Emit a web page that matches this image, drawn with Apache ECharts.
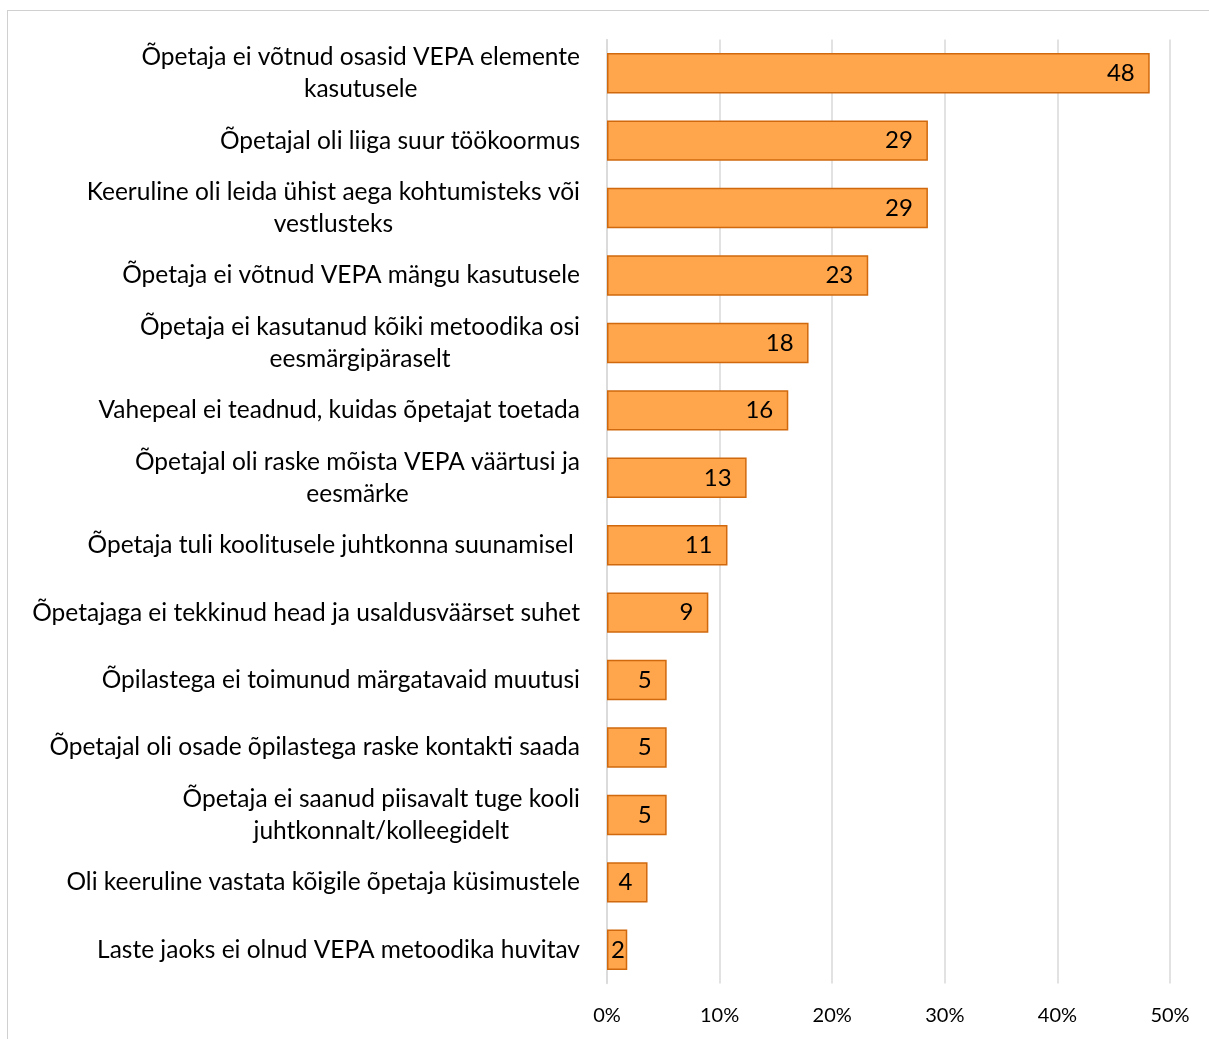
<!DOCTYPE html>
<html>
<head>
<meta charset="utf-8">
<script src="https://cdn.jsdelivr.net/npm/echarts@6/dist/echarts.min.js"></script>
<style>
html,body{margin:0;padding:0;background:#fff;overflow:hidden;}
#frame{position:absolute;left:7px;top:10px;width:1400px;height:1200px;border:1.5px solid #d0d0d0;box-sizing:border-box;}
#chart{position:absolute;left:0;top:0;width:1209px;height:1039px;}
</style>
</head>
<body>
<div id="frame"></div>
<div id="chart"></div>
<script>
const categories = [
  "Õpetaja ei võtnud osasid VEPA elemente\nkasutusele",
  "Õpetajal oli liiga suur töökoormus",
  "Keeruline oli leida ühist aega kohtumisteks või\nvestlusteks",
  "Õpetaja ei võtnud VEPA mängu kasutusele",
  "Õpetaja ei kasutanud kõiki metoodika osi\neesmärgipäraselt",
  "Vahepeal ei teadnud, kuidas õpetajat toetada",
  "Õpetajal oli raske mõista VEPA väärtusi ja\neesmärke",
  "Õpetaja tuli koolitusele juhtkonna suunamisel ",
  "Õpetajaga ei tekkinud head ja usaldusväärset suhet",
  "Õpilastega ei toimunud märgatavaid muutusi",
  "Õpetajal oli osade õpilastega raske kontakti saada",
  "Õpetaja ei saanud piisavalt tuge kooli\njuhtkonnalt/kolleegidelt",
  "Oli keeruline vastata kõigile õpetaja küsimustele",
  "Laste jaoks ei olnud VEPA metoodika huvitav"
];
const values = [48.2, 28.5, 28.5, 23.2, 17.9, 16.1, 12.4, 10.7, 9.0, 5.3, 5.3, 5.3, 3.6, 1.8];
const labels = ["48", "29", "29", "23", "18", "16", "13", "11", "9", "5", "5", "5", "4", "2"];
const xTicks = [0, 10, 20, 30, 40, 50];

const FONT = "Lato, 'Open Sans', sans-serif";
const seriesData = values.map(v => v < 3
  ? {value: v, label: {position: 'insideLeft', distance: 4}}
  : v);

const chart = echarts.init(document.getElementById('chart'), null, {renderer: 'canvas'});
chart.setOption({
  animation: false,
  grid: {left: 607, right: 39, top: 39.5, bottom: 55.5, containLabel: false},
  xAxis: {
    type: 'value', min: xTicks[0], max: xTicks[xTicks.length - 1], interval: 10,
    axisLine: {show: false}, axisTick: {show: false},
    splitLine: {show: true, lineStyle: {color: '#d9d9d9', width: 1.5}},
    axisLabel: {formatter: v => v + '%', color: '#000', fontSize: 20, fontFamily: FONT, margin: 22}
  },
  yAxis: {
    type: 'category', data: categories, inverse: true,
    axisLine: {show: true, lineStyle: {color: '#d9d9d9', width: 1.5}},
    axisTick: {show: false},
    axisLabel: {
      color: '#000', fontSize: 24.5, fontFamily: FONT, margin: 27, lineHeight: 32, align: 'right',
      formatter: v => v.split('\n').map(l => '{c|' + l + '}').join('\n'),
      rich: {c: {align: 'center', color: '#000', fontSize: 24.5, fontFamily: FONT, lineHeight: 32}}
    }
  },
  series: [{
    type: 'bar',
    data: seriesData,
    barCategoryGap: '40%',
    itemStyle: {color: '#ffa54b', borderColor: '#d0690e', borderWidth: 1.5},
    label: {
      show: true, position: 'insideRight', distance: 15,
      formatter: p => labels[p.dataIndex],
      color: '#000', fontSize: 24, fontFamily: FONT
    }
  }]
});
</script>
</body>
</html>
